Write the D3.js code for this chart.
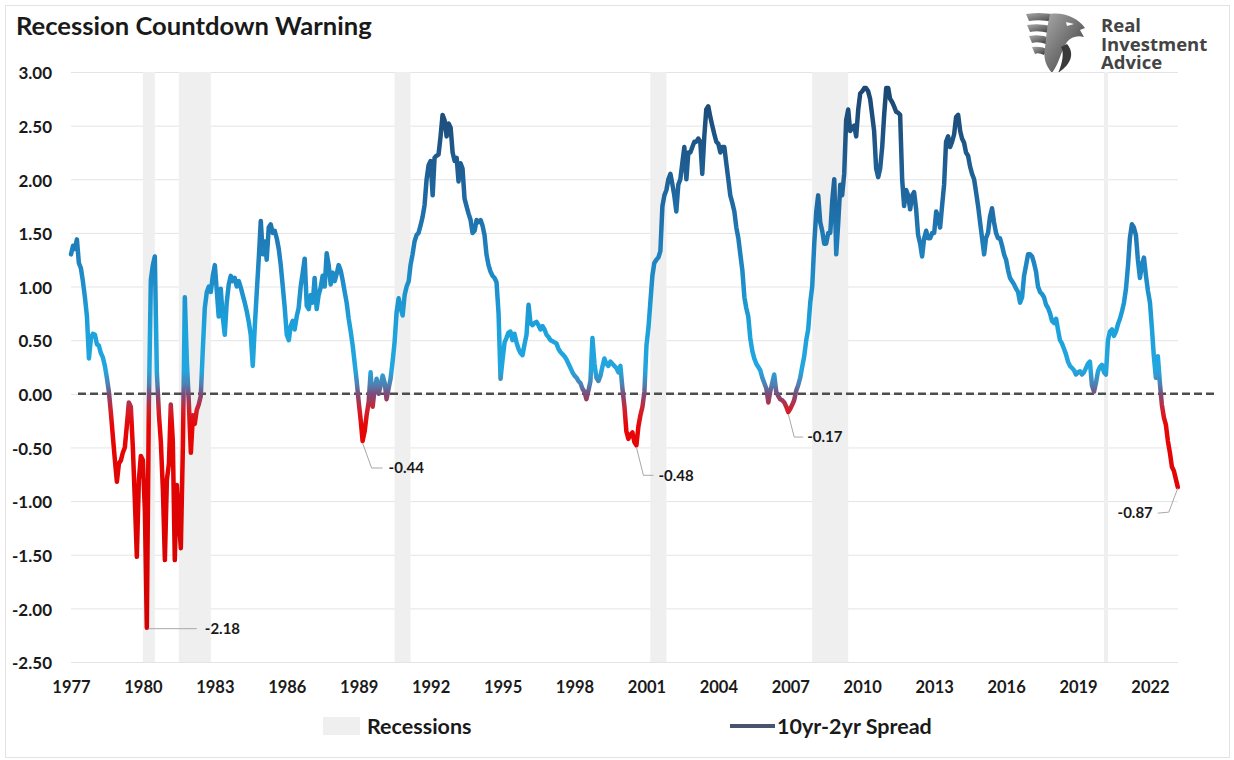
<!DOCTYPE html>
<html>
<head>
<meta charset="utf-8">
<title>Recession Countdown Warning</title>
<script src="https://cdn.jsdelivr.net/npm/d3@7"></script>
<style>
  html, body { margin: 0; padding: 0; background: #ffffff; }
  svg { display: block; font-family: Lato, "Open Sans", "Liberation Sans", sans-serif; }
</style>
</head>
<body>
<svg id="chart" width="1234" height="760"></svg>
<script>
// ---- data -----------------------------------------------------------------
// 10yr-2yr Treasury spread, one value per month starting January 1977.
const firstMonth = "1977-01";
const spreadMonthly = [
  /*1977*/ 1.30, 1.38, 1.35, 1.44, 1.22, 1.17, 1.05, 0.90, 0.72, 0.33, 0.52, 0.56,
  /*1978*/ 0.55, 0.46, 0.45, 0.38, 0.34, 0.26, 0.15, 0.02, -0.18, -0.40, -0.62, -0.82,
  /*1979*/ -0.65, -0.62, -0.55, -0.50, -0.30, -0.08, -0.12, -0.50, -1.00, -1.52, -0.80, -0.58,
  /*1980*/ -0.62, -1.10, -2.18, -0.10, 1.06, 1.20, 1.28, 0.20, -0.19, -0.45, -0.90, -1.55,
  /*1981*/ -0.80, -0.65, -0.10, -0.44, -1.55, -0.85, -1.15, -1.44, -0.50, 0.90, 0.30, -0.08,
  /*1982*/ -0.55, -0.20, -0.28, -0.15, -0.10, -0.02, 0.40, 0.80, 0.95, 1.00, 0.95, 1.10,
  /*1983*/ 1.20, 0.95, 0.72, 0.98, 0.72, 0.55, 0.85, 1.02, 1.10, 1.05, 1.08, 1.00,
  /*1984*/ 1.05, 0.99, 0.92, 0.85, 0.77, 0.67, 0.55, 0.26, 0.63, 0.95, 1.27, 1.61,
  /*1985*/ 1.30, 1.42, 1.25, 1.55, 1.58, 1.50, 1.52, 1.45, 1.35, 1.20, 1.00, 0.80,
  /*1986*/ 0.55, 0.50, 0.63, 0.68, 0.60, 0.72, 0.80, 1.00, 1.13, 1.26, 0.82, 0.79,
  /*1987*/ 0.92, 0.85, 1.08, 0.79, 0.92, 0.99, 1.10, 1.00, 1.31, 1.20, 1.02, 1.13,
  /*1988*/ 1.05, 1.12, 1.20, 1.15, 1.06, 0.95, 0.85, 0.70, 0.58, 0.45, 0.28, 0.12,
  /*1989*/ -0.08, -0.25, -0.44, -0.35, -0.20, -0.08, 0.20, -0.12, 0.05, 0.14, 0.00, 0.08,
  /*1990*/ 0.17, 0.10, -0.05, 0.05, 0.14, 0.30, 0.48, 0.76, 0.89, 0.80, 0.73, 0.92,
  /*1991*/ 1.00, 1.05, 1.20, 1.30, 1.42, 1.48, 1.50, 1.57, 1.65, 1.76, 2.00, 2.13,
  /*1992*/ 2.17, 1.85, 2.20, 2.22, 2.23, 2.40, 2.60, 2.55, 2.40, 2.52, 2.48, 2.25,
  /*1993*/ 2.17, 2.20, 1.98, 2.15, 2.10, 1.82, 1.75, 1.68, 1.62, 1.50, 1.52, 1.62,
  /*1994*/ 1.60, 1.62, 1.57, 1.48, 1.30, 1.20, 1.14, 1.10, 1.08, 1.04, 0.75, 0.14,
  /*1995*/ 0.32, 0.48, 0.52, 0.57, 0.58, 0.50, 0.56, 0.48, 0.42, 0.38, 0.36, 0.46,
  /*1996*/ 0.55, 0.83, 0.66, 0.64, 0.66, 0.67, 0.64, 0.60, 0.63, 0.60, 0.55, 0.53,
  /*1997*/ 0.50, 0.49, 0.48, 0.47, 0.42, 0.39, 0.37, 0.35, 0.32, 0.28, 0.24, 0.20,
  /*1998*/ 0.17, 0.15, 0.12, 0.10, 0.05, 0.02, -0.05, 0.03, 0.12, 0.52, 0.28, 0.15,
  /*1999*/ 0.12, 0.17, 0.25, 0.33, 0.28, 0.26, 0.30, 0.28, 0.26, 0.24, 0.20, 0.26,
  /*2000*/ 0.05, -0.12, -0.35, -0.42, -0.38, -0.36, -0.45, -0.48, -0.30, -0.20, -0.12, 0.02,
  /*2001*/ 0.45, 0.62, 0.85, 1.10, 1.22, 1.25, 1.27, 1.33, 1.75, 1.85, 1.90, 2.00,
  /*2002*/ 2.05, 1.95, 1.85, 1.70, 1.95, 2.00, 2.15, 2.30, 2.00, 2.25, 2.25, 2.30,
  /*2003*/ 2.35, 2.35, 2.38, 2.35, 2.05, 2.40, 2.65, 2.68, 2.58, 2.50, 2.42, 2.35,
  /*2004*/ 2.33, 2.25, 2.30, 2.30, 2.15, 2.00, 1.85, 1.78, 1.70, 1.55, 1.45, 1.30,
  /*2005*/ 1.15, 0.90, 0.80, 0.72, 0.52, 0.40, 0.33, 0.28, 0.25, 0.22, 0.15, 0.10,
  /*2006*/ 0.05, -0.08, 0.02, 0.10, 0.18, 0.02, -0.02, -0.05, -0.06, -0.08, -0.12, -0.17,
  /*2007*/ -0.14, -0.10, -0.06, 0.03, 0.08, 0.15, 0.25, 0.35, 0.50, 0.60, 0.85, 1.00,
  /*2008*/ 1.40, 1.70, 1.85, 1.60, 1.52, 1.40, 1.40, 1.50, 1.50, 1.80, 2.00, 1.30,
  /*2009*/ 1.60, 1.95, 1.85, 2.05, 2.55, 2.65, 2.45, 2.48, 2.50, 2.40, 2.65, 2.80,
  /*2010*/ 2.82, 2.85, 2.85, 2.82, 2.75, 2.60, 2.45, 2.10, 2.02, 2.10, 2.30, 2.60,
  /*2011*/ 2.85, 2.85, 2.75, 2.72, 2.68, 2.63, 2.62, 2.60, 2.00, 1.75, 1.90, 1.85,
  /*2012*/ 1.72, 1.85, 1.88, 1.72, 1.48, 1.40, 1.28, 1.45, 1.52, 1.45, 1.45, 1.50,
  /*2013*/ 1.50, 1.70, 1.65, 1.55, 1.75, 1.95, 2.35, 2.40, 2.30, 2.35, 2.42, 2.58,
  /*2014*/ 2.60, 2.45, 2.38, 2.34, 2.25, 2.22, 2.12, 2.05, 2.00, 1.88, 1.75, 1.60,
  /*2015*/ 1.45, 1.30, 1.45, 1.50, 1.65, 1.73, 1.60, 1.50, 1.45, 1.45, 1.38, 1.30,
  /*2016*/ 1.25, 1.15, 1.08, 1.05, 1.02, 0.98, 0.95, 0.85, 0.90, 1.10, 1.20, 1.30,
  /*2017*/ 1.30, 1.28, 1.22, 1.14, 1.00, 0.95, 0.93, 0.90, 0.83, 0.80, 0.75, 0.68,
  /*2018*/ 0.66, 0.70, 0.60, 0.50, 0.47, 0.42, 0.37, 0.30, 0.26, 0.24, 0.22, 0.18,
  /*2019*/ 0.20, 0.21, 0.18, 0.20, 0.24, 0.28, 0.30, 0.08, 0.02, 0.10, 0.21, 0.25,
  /*2020*/ 0.27, 0.20, 0.18, 0.50, 0.58, 0.60, 0.54, 0.58, 0.65, 0.70, 0.77, 0.85,
  /*2021*/ 0.98, 1.20, 1.45, 1.58, 1.55, 1.48, 1.25, 1.08, 1.20, 1.27, 1.10, 0.96,
  /*2022*/ 0.85, 0.60, 0.35, 0.15, 0.35, 0.10, -0.10, -0.22, -0.29, -0.44, -0.55, -0.68,
  /*2023*/ -0.72, -0.80, -0.87
];

// NBER recessions (first and last month)
const recessionStarts = ["1980-01", "1981-07", "1990-07", "2001-03", "2007-12", "2020-02"];
const recessionEnds   = ["1980-07", "1982-11", "1991-03", "2001-11", "2009-06", "2020-04"];

// Inversion troughs that carry a value callout
const calloutMonths = ["1980-03", "1989-03", "2000-08", "2006-12", "2023-03"];

const yearTicks = [1977, 1980, 1983, 1986, 1989, 1992, 1995, 1998, 2001, 2004, 2007, 2010, 2013, 2016, 2019, 2022];
const valueTicks = [3.0, 2.5, 2.0, 1.5, 1.0, 0.5, 0.0, -0.5, -1.0, -1.5, -2.0, -2.5];

const titleText = "Recession Countdown Warning";
const legendRecessions = "Recessions";
const legendSpread = "10yr-2yr Spread";
const brandLines = ["Real", "Investment", "Advice"];

// ---- helpers ----------------------------------------------------------------
const parseMonth = s => { const [y, m] = s.split("-").map(Number); return new Date(y, m - 1, 1); };
const start = parseMonth(firstMonth);
const series = spreadMonthly.map((v, i) => ({
  date: new Date(start.getFullYear(), start.getMonth() + i, 1),
  value: v
}));
const recessions = recessionStarts.map((s, i) => ({ start: parseMonth(s), end: parseMonth(recessionEnds[i]) }));

// ---- layout -----------------------------------------------------------------
const plot = { left: 71, right: 1178, top: 72, bottom: 662 };

const svg = d3.select("#chart");

const x = d3.scaleTime()
  .domain([new Date(1977, 0, 1), new Date(2023, 2, 4)])
  .range([plot.left, plot.right]);

const y = d3.scaleLinear()
  .domain([-2.5, 3.0])
  .range([plot.bottom, plot.top]);

// outer frame
svg.append("rect")
  .attr("x", 5.5).attr("y", 5.5)
  .attr("width", 1224).attr("height", 752)
  .attr("fill", "#ffffff")
  .attr("stroke", "#e3e3e3").attr("stroke-width", 1);

// title
svg.append("text")
  .attr("x", 16).attr("y", 35)
  .attr("font-size", 25.6).attr("font-weight", 700)
  .attr("fill", "#1a1a1a")
  .text(titleText);

// ---- brand mark ---------------------------------------------------------------
const defs = svg.append("defs");
const brandGrad = defs.append("linearGradient")
  .attr("id", "brandGrad").attr("x1", "0").attr("y1", "0").attr("x2", "1").attr("y2", "1");
brandGrad.append("stop").attr("offset", "0%").attr("stop-color", "#a9a9a9");
brandGrad.append("stop").attr("offset", "55%").attr("stop-color", "#6b6b6b");
brandGrad.append("stop").attr("offset", "100%").attr("stop-color", "#2f2f2f");

const brand = svg.append("g").attr("fill", "url(#brandGrad)");
// feathers sweeping back from the head
brand.append("path").attr("d", "M1026,14 Q1044,11 1060,16 L1054,22 Q1040,19 1029,21 Z");
brand.append("path").attr("d", "M1027,25 Q1042,23 1054,27 L1049,33 Q1038,30 1030,32 Z");
brand.append("path").attr("d", "M1029,36 Q1041,34 1050,38 L1046,44 Q1038,41 1032,43 Z");
brand.append("path").attr("d", "M1032,47 Q1041,46 1047,49 L1044,55 Q1038,52 1035,54 Z");
// head and beak
brand.append("path").attr("d",
  "M1050,14 C1064,12 1078,18 1085,28 L1080,30 L1084,37 C1077,35 1071,37 1067,42 " +
  "C1061,50 1060,62 1052,73 C1046,66 1043,58 1045,48 C1046,38 1047,26 1050,14 Z");
// neck shading
brand.append("path").attr("fill", "#3a3a3a").attr("d",
  "M1067,44 C1074,52 1073,63 1058,73 C1063,62 1064,52 1061,47 Z");
// eye
brand.append("path").attr("fill", "#ffffff").attr("d", "M1066,22 L1074,24 L1067,26 Z");

// wordmark set as one text block with stacked lines
const brandText = svg.append("text")
  .attr("font-family", "'Open Sans', 'Noto Sans', sans-serif")
  .attr("font-weight", 700).attr("font-size", 18.5).attr("fill", "#444444")
  .attr("x", 1101).attr("y", 32);
brandLines.forEach((t, i) => {
  brandText.append("tspan").attr("x", 1101).attr("dy", i === 0 ? 0 : 18.5).text(t);
});

// ---- gridlines ----------------------------------------------------------------
svg.append("g")
  .attr("transform", `translate(${plot.left},0)`)
  .call(d3.axisLeft(y).tickValues(valueTicks).tickSize(-(plot.right - plot.left)).tickFormat(""))
  .call(g => g.select(".domain").remove())
  .call(g => g.selectAll(".tick line").attr("stroke", "#e4e4e4").attr("stroke-width", 1));

// ---- recession bands ------------------------------------------------------------
svg.append("g").selectAll("rect")
  .data(recessions)
  .join("rect")
  .attr("x", d => x(d.start))
  .attr("width", d => Math.max(3, x(d.end) - x(d.start)))
  .attr("y", plot.top)
  .attr("height", plot.bottom - plot.top)
  .attr("fill", "#efefef");

// ---- axes labels ----------------------------------------------------------------
svg.append("g")
  .attr("transform", `translate(${plot.left},0)`)
  .call(d3.axisLeft(y).tickValues(valueTicks).tickSize(0).tickPadding(19).tickFormat(d => d.toFixed(2)))
  .call(g => g.select(".domain").remove())
  .call(g => g.selectAll("text")
    .attr("font-family", "Lato, 'Open Sans', sans-serif")
    .attr("font-size", 17).attr("font-weight", 700).attr("fill", "#1a1a1a")
    .attr("dy", "0.40em"));

svg.append("g")
  .attr("transform", `translate(0,${plot.bottom})`)
  .call(d3.axisBottom(x).tickValues(yearTicks.map(yr => new Date(yr, 0, 1)))
    .tickSize(0).tickPadding(19).tickFormat(d3.timeFormat("%Y")))
  .call(g => g.select(".domain").remove())
  .call(g => g.selectAll("text")
    .attr("font-family", "Lato, 'Open Sans', sans-serif")
    .attr("font-size", 16.5).attr("font-weight", 700).attr("fill", "#1a1a1a"));

// ---- zero reference line ------------------------------------------------------------
svg.append("line")
  .attr("x1", plot.left + 7).attr("x2", 1218)
  .attr("y1", y(0)).attr("y2", y(0))
  .attr("stroke", "#4d4d4d").attr("stroke-width", 2.5)
  .attr("stroke-dasharray", "8,4");

// ---- spread line with value-driven colour ----------------------------------------------
const colourStops = [
  [3.0, "#1b446c"], [2.4, "#1e5484"], [1.8, "#1f6aa2"], [1.3, "#1f82bf"],
  [0.6, "#1ca2dc"], [0.22, "#22a6df"], [0.08, "#4f7fb0"], [0.0, "#7b4d7c"],
  [-0.15, "#d41f2a"], [-0.3, "#e80505"], [-2.5, "#cf0000"]
];
const lineGrad = defs.append("linearGradient")
  .attr("id", "spreadGrad")
  .attr("gradientUnits", "userSpaceOnUse")
  .attr("x1", 0).attr("x2", 0)
  .attr("y1", y(3.0)).attr("y2", y(-2.5));
colourStops.forEach(([v, c]) => {
  lineGrad.append("stop")
    .attr("offset", ((y(v) - y(3.0)) / (y(-2.5) - y(3.0))))
    .attr("stop-color", c);
});

const line = d3.line()
  .x(d => x(d.date))
  .y(d => y(d.value));

svg.append("path")
  .datum(series)
  .attr("d", line)
  .attr("fill", "none")
  .attr("stroke", "url(#spreadGrad)")
  .attr("stroke-width", 4.5)
  .attr("stroke-linejoin", "round")
  .attr("stroke-linecap", "round");

// ---- callouts on the inversion troughs ---------------------------------------------------
// leader path offsets (relative to the data point) and label placement
const calloutLayout = [
  { path: [[2, 1], [50, 1]], text: [58, 1], anchor: "start" },
  { path: [[0, 2], [9, 27], [20, 27]], text: [26, 27], anchor: "start" },
  { path: [[0, 2], [7, 30], [17, 30]], text: [22, 30], anchor: "start" },
  { path: [[0, 2], [6, 25], [15, 25]], text: [19, 25], anchor: "start" },
  { path: [[0, 1], [-9, 25], [-20, 26]], text: [-25, 26], anchor: "end" }
];

const callouts = calloutMonths.map((m, i) => {
  const d = parseMonth(m);
  const pt = series.find(s => s.date.getTime() === d.getTime());
  return { point: pt, layout: calloutLayout[i] };
});

const calloutG = svg.append("g");
callouts.forEach(c => {
  const px = x(c.point.date), py = y(c.point.value);
  calloutG.append("path")
    .attr("d", d3.line()(c.layout.path.map(([dx, dy]) => [px + dx, py + dy])))
    .attr("fill", "none").attr("stroke", "#a8a8a8").attr("stroke-width", 1);
  calloutG.append("text")
    .attr("x", px + c.layout.text[0]).attr("y", py + c.layout.text[1])
    .attr("dy", "0.35em")
    .attr("text-anchor", c.layout.anchor)
    .attr("font-size", 15).attr("font-weight", 700).attr("fill", "#1a1a1a")
    .text(c.point.value.toFixed(2));
});

// ---- legend ---------------------------------------------------------------------------
const legend = svg.append("g").attr("font-size", 21.5).attr("font-weight", 700).attr("fill", "#1a1a1a");
legend.append("rect").attr("x", 323).attr("y", 717).attr("width", 37).attr("height", 18).attr("fill", "#efefef");
legend.append("text").attr("x", 367).attr("y", 726).attr("dy", "0.35em").text(legendRecessions);
legend.append("line").attr("x1", 730).attr("x2", 775).attr("y1", 726).attr("y2", 726)
  .attr("stroke", "#48536f").attr("stroke-width", 4);
legend.append("text").attr("x", 777).attr("y", 726).attr("dy", "0.35em").text(legendSpread);
</script>
</body>
</html>
